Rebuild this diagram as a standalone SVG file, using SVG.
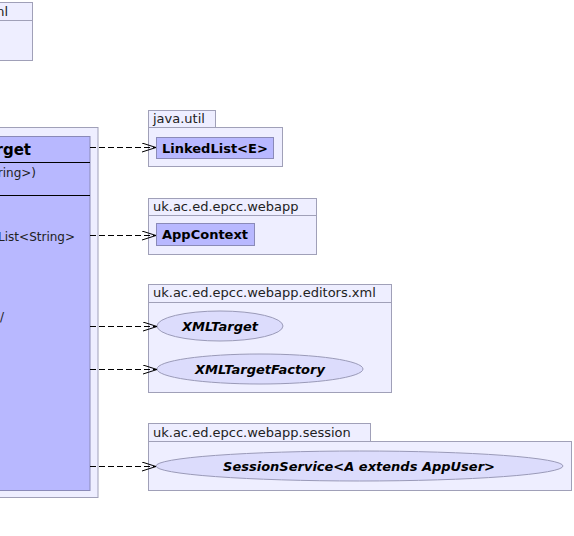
<svg xmlns="http://www.w3.org/2000/svg" width="574" height="536" viewBox="0 0 574 536">
<style>
.pkg{fill:#eeeeff;stroke:#a0a0b8;stroke-width:1}
.cls{fill:#b8b8ff;stroke:#8a8ab8;stroke-width:1}
.iface{fill:#dcdcfc;stroke:#9a9ab8;stroke-width:1}
.plabel{font-family:"DejaVu Sans",sans-serif;font-size:13px;fill:#222}
.cname{font-family:"DejaVu Sans",sans-serif;font-size:13px;font-weight:bold;fill:#000}
.iname{font-family:"DejaVu Sans",sans-serif;font-size:13px;font-weight:bold;font-style:italic;fill:#000}
.member{font-family:"DejaVu Sans",sans-serif;font-size:12px;fill:#222}
.dep{fill:none;stroke:#000;stroke-width:1;stroke-dasharray:6,3}
.sep{stroke:#000;stroke-width:1}
</style>
<defs>
<marker id="open" markerWidth="16" markerHeight="10" refX="14" refY="5" orient="auto" markerUnits="userSpaceOnUse">
<path d="M0,0.5 L14,5 L0,9.5" fill="none" stroke="#000" stroke-width="1"/>
</marker>
</defs>
<g id="pkg-xml-top">
<rect class="pkg" x="-10" y="2.5" width="42.5" height="18"/>
<rect class="pkg" x="-10" y="20.5" width="42.5" height="40"/>
<text class="plabel" x="8" y="16" text-anchor="end">nl</text>
</g>
<g id="pkg-main">
<rect class="pkg" x="-10" y="127.5" width="108" height="370"/>
<g id="XMLTargetClass">
<rect class="cls" x="-10" y="136.5" width="100" height="354"/>
<line class="sep" x1="-10" y1="162.5" x2="90" y2="162.5"/>
<line class="sep" x1="-10" y1="195.5" x2="90" y2="195.5"/>
<text class="cname" x="31" y="155" text-anchor="end" style="font-size:15px">rget</text>
<text class="member" x="36" y="177" text-anchor="end">ring&gt;)</text>
<text class="member" x="75" y="241" text-anchor="end">List&lt;String&gt;</text>
<text class="member" x="4" y="321" text-anchor="end">/</text>
</g>
</g>
<g id="pkg-java-util">
<rect class="pkg" x="148.5" y="110.5" width="67" height="17"/>
<rect class="pkg" x="148.5" y="127.5" width="134" height="39"/>
<text class="plabel" x="153" y="123">java.util</text>
<g id="LinkedList">
<rect class="cls" x="156.5" y="137.5" width="117" height="21"/>
<text class="cname" x="162" y="152.5">LinkedList&lt;E&gt;</text>
</g>
</g>
<g id="pkg-webapp">
<rect class="pkg" x="148.5" y="198.5" width="168" height="17"/>
<rect class="pkg" x="148.5" y="215.5" width="168" height="39"/>
<text class="plabel" x="153" y="211">uk.ac.ed.epcc.webapp</text>
<g id="AppContext">
<rect class="cls" x="156.5" y="223.5" width="98" height="22"/>
<text class="cname" x="162" y="239">AppContext</text>
</g>
</g>
<g id="pkg-editors-xml">
<rect class="pkg" x="148.5" y="284.5" width="243" height="18"/>
<rect class="pkg" x="148.5" y="302.5" width="243" height="90"/>
<text class="plabel" x="153" y="297">uk.ac.ed.epcc.webapp.editors.xml</text>
<g id="XMLTarget">
<ellipse class="iface" cx="220" cy="326" rx="63" ry="15"/>
<text class="iname" x="220" y="331" text-anchor="middle">XMLTarget</text>
</g>
<g id="XMLTargetFactory">
<ellipse class="iface" cx="260" cy="369" rx="103" ry="15"/>
<text class="iname" x="260" y="374" text-anchor="middle">XMLTargetFactory</text>
</g>
</g>
<g id="pkg-session">
<rect class="pkg" x="148.5" y="423.5" width="222" height="18"/>
<rect class="pkg" x="148.5" y="441.5" width="423" height="49"/>
<text class="plabel" x="153" y="437">uk.ac.ed.epcc.webapp.session</text>
<g id="SessionService">
<ellipse class="iface" cx="359.5" cy="466" rx="203.5" ry="15"/>
<text class="iname" x="359" y="471" text-anchor="middle">SessionService&lt;A extends AppUser&gt;</text>
</g>
</g>
<g id="connectors">
<line class="dep" x1="90" y1="147.5" x2="156" y2="147.5" marker-end="url(#open)"/>
<line class="dep" x1="90" y1="235.5" x2="156" y2="235.5" marker-end="url(#open)"/>
<line class="dep" x1="90" y1="326.5" x2="157" y2="326.5" marker-end="url(#open)"/>
<line class="dep" x1="90" y1="369.5" x2="157" y2="369.5" marker-end="url(#open)"/>
<line class="dep" x1="90" y1="466.5" x2="156" y2="466.5" marker-end="url(#open)"/>
</g>
</svg>
